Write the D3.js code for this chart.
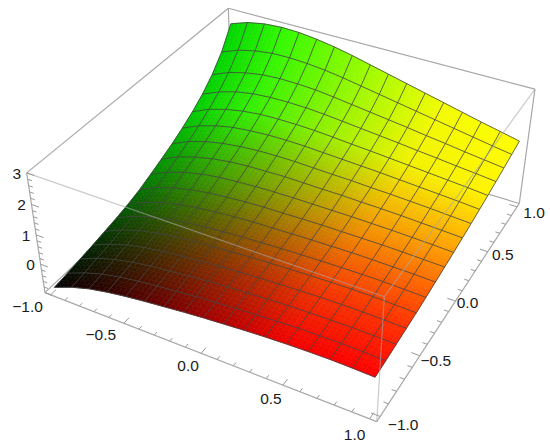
<!DOCTYPE html>
<meta charset="utf-8">
<style>
body { margin: 0; background: #fff; }
svg { display: block; }
text { font-family: "Liberation Sans", Arial, sans-serif; font-size: 15.5px; fill: #1a1a1a; text-anchor: middle; }
</style>
<body>
<script src="https://d3js.org/d3.v7.min.js"></script>
<script>
var width = 550, height = 446;

var gridVals = [-1, -0.875, -0.75, -0.625, -0.5, -0.375, -0.25, -0.125, 0, 0.125, 0.25, 0.375, 0.5, 0.625, 0.75, 0.875, 1];

// surface height, one row per y (y = -1 first), one column per x
var zRows = [
  [-.88,-.63,-.44,-.31,-.21,-.13,-.06,.01,.07,.12,.17,.21,.24,.26,.27,.26,.24],
  [-.82,-.57,-.37,-.24,-.14,-.06,.00,.07,.12,.17,.21,.25,.28,.29,.30,.29,.27],
  [-.75,-.49,-.30,-.16,-.06,.01,.08,.14,.19,.23,.27,.30,.32,.33,.34,.33,.31],
  [-.68,-.42,-.22,-.08,.02,.09,.15,.21,.25,.29,.32,.35,.37,.38,.38,.37,.35],
  [-.60,-.33,-.13,.01,.11,.18,.23,.28,.32,.35,.38,.40,.42,.43,.43,.41,.39],
  [-.52,-.25,-.05,.09,.19,.26,.32,.36,.39,.42,.44,.46,.47,.48,.48,.46,.44],
  [-.42,-.15,.06,.20,.30,.37,.42,.46,.48,.50,.52,.53,.54,.54,.53,.52,.50],
  [-.29,-.01,.19,.33,.43,.49,.54,.57,.58,.60,.61,.61,.61,.61,.60,.58,.56],
  [-.12,.16,.36,.50,.59,.64,.68,.70,.71,.71,.71,.71,.70,.69,.67,.65,.62],
  [.06,.34,.53,.67,.76,.81,.83,.85,.84,.83,.83,.81,.80,.78,.75,.72,.69],
  [.25,.53,.72,.85,.93,.98,1.00,1.00,.98,.96,.95,.92,.90,.87,.84,.80,.76],
  [.47,.74,.93,1.06,1.13,1.17,1.18,1.17,1.14,1.11,1.08,1.05,1.01,.97,.93,.89,.84],
  [.72,.99,1.17,1.29,1.36,1.38,1.38,1.36,1.32,1.27,1.23,1.18,1.13,1.08,1.03,.98,.92],
  [1.02,1.28,1.46,1.57,1.62,1.63,1.62,1.58,1.52,1.46,1.40,1.34,1.27,1.21,1.14,1.08,1.01],
  [1.40,1.65,1.81,1.91,1.95,1.94,1.91,1.84,1.76,1.68,1.60,1.52,1.43,1.35,1.26,1.18,1.10],
  [1.90,2.13,2.27,2.35,2.36,2.33,2.27,2.18,2.07,1.96,1.85,1.74,1.63,1.52,1.41,1.30,1.20],
  [2.60,2.80,2.91,2.95,2.93,2.86,2.76,2.63,2.48,2.33,2.18,2.03,1.88,1.73,1.58,1.44,1.30]
];

var xTicks = d3.range(-10, 11).map(function(k) { return k / 10; });
var zTicks = d3.range(-5, 16).map(function(k) { return k / 5; });
var xLabels = [-1, -0.5, 0, 0.5, 1];
var zLabels = [0, 1, 2, 3];

// box limits
var boxX = [-1.04, 1.04], boxZ = [-1, 3];
var sx = d3.scaleLinear().domain(boxX).range([-1, 1]);
var sz = d3.scaleLinear().domain(boxZ).range([-1, 1]);

// box corners on screen: [sign x, sign y, sign z, px, py]
var anchors = [
  [-1, -1, -1, 45, 292.7],
  [ 1, -1, -1, 376.7, 421.7],
  [ 1,  1, -1, 519.3, 203.3],
  [-1, -1,  1, 26.7, 172.7],
  [ 1, -1,  1, 384.3, 296.7],
  [ 1,  1,  1, 535, 89.3],
  [-1,  1,  1, 228.3, 8.3]
];

function solve(A, b) {
  var n = b.length;
  var M = A.map(function(r, i) { return r.concat([b[i]]); });
  for (var c = 0; c < n; c++) {
    var p = c;
    for (var r = c + 1; r < n; r++) if (Math.abs(M[r][c]) > Math.abs(M[p][c])) p = r;
    var t = M[c]; M[c] = M[p]; M[p] = t;
    for (var r2 = 0; r2 < n; r2++) {
      if (r2 == c) continue;
      var f = M[r2][c] / M[c][c];
      for (var k = c; k <= n; k++) M[r2][k] -= f * M[c][k];
    }
  }
  return M.map(function(r, i) { return r[n] / r[i]; });
}

// least squares camera from the corners
var rows = [], rhs = [];
anchors.forEach(function(a) {
  var X = a[0], Y = a[1], Z = a[2], u = a[3], v = a[4];
  rows.push([X, Y, Z, 1, 0, 0, 0, 0, -u * X, -u * Y, -u * Z]); rhs.push(u);
  rows.push([0, 0, 0, 0, X, Y, Z, 1, -v * X, -v * Y, -v * Z]); rhs.push(v);
});
var AtA = d3.range(11).map(function(i) {
  return d3.range(11).map(function(j) { return d3.sum(rows, function(r) { return r[i] * r[j]; }); });
});
var Atb = d3.range(11).map(function(i) { return d3.sum(rows, function(r, k) { return r[i] * rhs[k]; }); });
var cam = solve(AtA, Atb);

function project(x, y, z) {
  var X = sx(x), Y = sx(y), Z = sz(z);
  var w = cam[8] * X + cam[9] * Y + cam[10] * Z + 1;
  return [(cam[0] * X + cam[1] * Y + cam[2] * Z + cam[3]) / w,
          (cam[4] * X + cam[5] * Y + cam[6] * Z + cam[7]) / w];
}

var svg = d3.select("body").append("svg").attr("width", width).attr("height", height);
var line = d3.line();

function edge(g, a, b, opacity) {
  g.append("path")
    .attr("d", line([project(a[0], a[1], a[2]), project(b[0], b[1], b[2])]))
    .attr("fill", "none").attr("stroke", "#a8a8a8").attr("stroke-width", 1.2)
    .attr("stroke-opacity", opacity);
}

var lo = boxX[0], hi = boxX[1], zb = boxZ[0], zt = boxZ[1];

// edges behind the surface
var back = svg.append("g");
edge(back, [lo, lo, zb], [lo, hi, zb], 1);
edge(back, [lo, hi, zb], [hi, hi, zb], 1);
edge(back, [lo, hi, zb], [lo, hi, zt], 1);
edge(back, [lo, lo, zt], [lo, hi, zt], 1);
edge(back, [lo, hi, zt], [hi, hi, zt], 1);
edge(back, [hi, hi, zb], [hi, hi, zt], 1);
edge(back, [lo, lo, zb], [lo, lo, zt], 1);

// surface, far cells first, each cell split so the colour runs smoothly
var pos = d3.scaleLinear().domain([-1, 1]).range([0, 1]);
var tone = d3.scaleLinear().domain([0, .2, .35, .5, .75, 1]).range([0, .2, .4, .62, .95, 1]);
var greenGain = d3.scaleLinear().domain([0, .2, 1]).range([.84, .98, 1]);
var parts = 4;
var cells = svg.append("g");

function vertex(j, i, b, a) {
  var z = zRows[j][i] * (1 - a) * (1 - b) + zRows[j][i + 1] * a * (1 - b) +
          zRows[j + 1][i] * (1 - a) * b + zRows[j + 1][i + 1] * a * b;
  var x = gridVals[i] + a * (gridVals[i + 1] - gridVals[i]);
  var y = gridVals[j] + b * (gridVals[j + 1] - gridVals[j]);
  return project(x, y, z);
}

for (var j = 15; j >= 0; j--) {
  for (var i = 0; i < 16; i++) {
    for (var q = parts - 1; q >= 0; q--) {
      for (var p = 0; p < parts; p++) {
        var a0 = p / parts, a1 = (p + 1) / parts, b0 = q / parts, b1 = (q + 1) / parts;
        var xm = gridVals[i] + (a0 + a1) / 2 * (gridVals[i + 1] - gridVals[i]);
        var ym = gridVals[j] + (b0 + b1) / 2 * (gridVals[j + 1] - gridVals[j]);
        var col = d3.rgb(255 * tone(pos(xm)), 255 * tone(pos(ym)) * greenGain(pos(xm)), 0).formatHex();
        cells.append("path")
          .attr("d", line([vertex(j, i, b0, a0), vertex(j, i, b0, a1), vertex(j, i, b1, a1), vertex(j, i, b1, a0)]) + "Z")
          .attr("fill", col).attr("stroke", col).attr("stroke-width", 0.6);
      }
    }
  }
}

// mesh
var mesh = svg.append("g").attr("fill", "none").attr("stroke", "#444").attr("stroke-width", 1).attr("stroke-opacity", 0.8);
gridVals.forEach(function(y, j) {
  mesh.append("path").attr("d", line(gridVals.map(function(x, i) { return project(x, y, zRows[j][i]); })));
});
gridVals.forEach(function(x, i) {
  mesh.append("path").attr("d", line(gridVals.map(function(y, j) { return project(x, y, zRows[j][i]); })));
});

// edges in front of the surface
var front = svg.append("g");
edge(front, [lo, lo, zt], [hi, lo, zt], 0.6);
edge(front, [hi, lo, zt], [hi, hi, zt], 0.6);
edge(front, [hi, lo, zt], [hi, lo, zb], 0.6);
edge(front, [lo, lo, zb], [hi, lo, zb], 1);
edge(front, [hi, lo, zb], [hi, hi, zb], 1);

// ticks
var ticks = svg.append("g").attr("fill", "none").attr("stroke", "#999").attr("stroke-width", 1);
function tick(a, b) { ticks.append("path").attr("d", line([project(a[0], a[1], a[2]), project(b[0], b[1], b[2])])); }
function isMajor(v, step) { return Math.abs(v / step - Math.round(v / step)) < 1e-6; }

xTicks.forEach(function(v) {
  var len = isMajor(v, 0.5) ? 0.05 : 0.028;
  tick([v, lo, zb], [v, lo + len, zb]);
  tick([hi, v, zb], [hi - len, v, zb]);
});
zTicks.forEach(function(v) {
  var len = isMajor(v, 1) ? 0.05 : 0.028;
  tick([lo, lo, v], [lo + len, lo, v]);
});

function label(v) { return (v < 0 ? "\u2212" : "") + Math.abs(v).toFixed(1); }

// label nudges per tick, the original places these a little unevenly
var xNudge = [[-23, 17], [-23, 17], [-13, 18], [-12, 19], [-15, 21]];
var yNudge = [[23, 14], [16, 10], [12, 7], [15, 8], [17, 11]];

xLabels.forEach(function(v, n) {
  var p = project(v, lo, zb);
  svg.append("text").attr("x", p[0] + xNudge[n][0]).attr("y", p[1] + xNudge[n][1]).text(label(v));
  p = project(hi, v, zb);
  svg.append("text").attr("x", p[0] + yNudge[n][0]).attr("y", p[1] + yNudge[n][1]).text(label(v));
});
zLabels.forEach(function(v) {
  var p = project(lo, lo, v);
  svg.append("text").attr("x", p[0] - 10).attr("y", p[1] + 6).text(String(v));
});
</script>
</body>
